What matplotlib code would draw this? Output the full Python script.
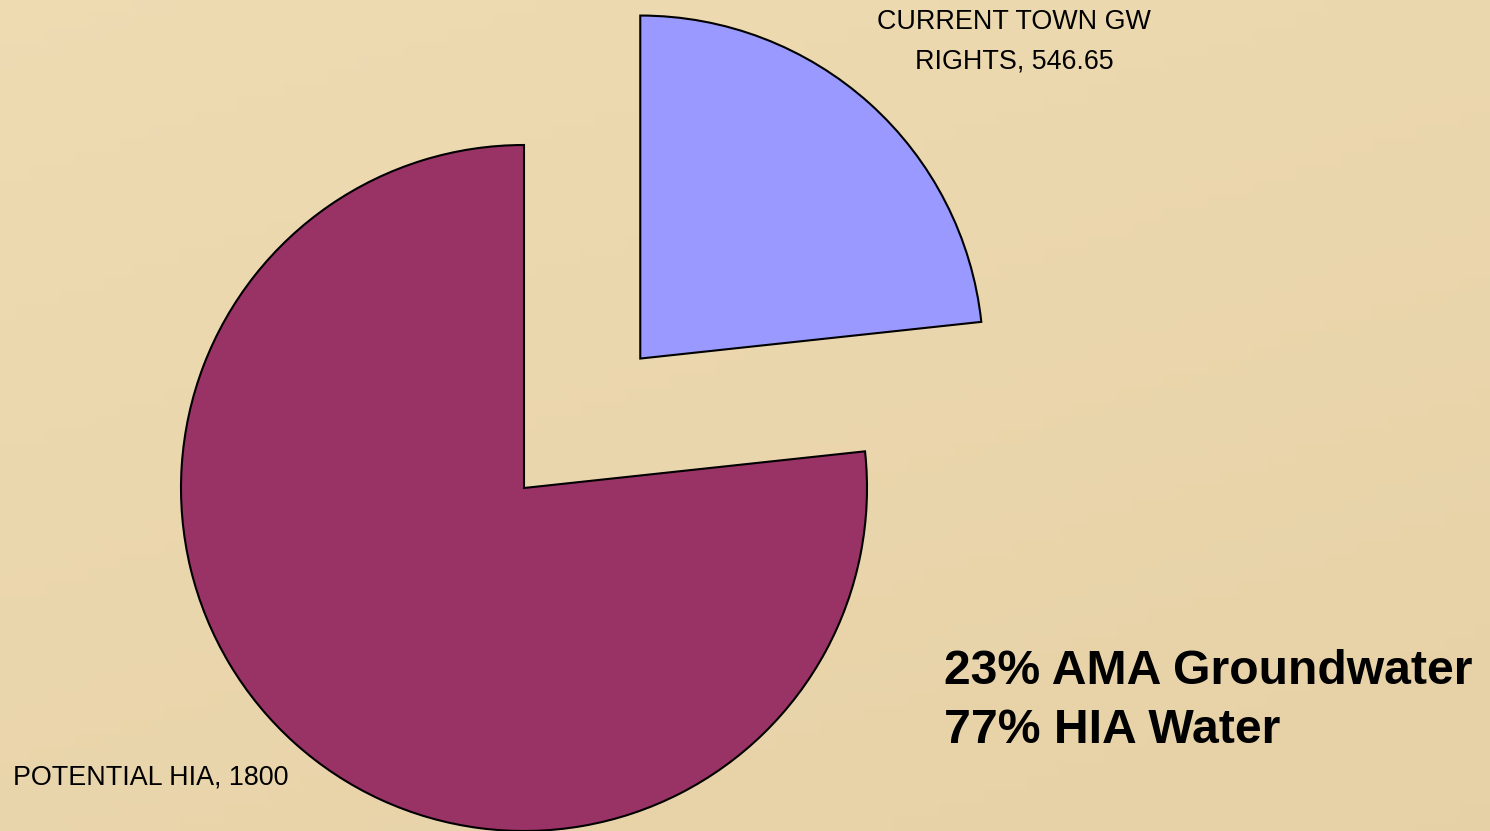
import matplotlib.pyplot as plt
import numpy as np

# data
labels = ["CURRENT TOWN GW\nRIGHTS, 546.65", "POTENTIAL HIA, 1800"]
values = [546.65, 1800]
colors = ["#9999FF", "#993366"]
summary = "23% AMA Groundwater\n77% HIA Water"

plt.rcParams['font.family'] = ['Liberation Sans', 'DejaVu Sans']

W, H = 1490, 831
fig = plt.figure(figsize=(W / 100, H / 100), dpi=100)
ax = fig.add_axes([0, 0, 1, 1])

# parchment-like background, soft gradient
yy, xx = np.mgrid[0:1:60j, 0:1:100j]
shade = 0.5 * yy + 0.3 * xx
c_top = np.array([0.935, 0.860, 0.700])
c_bot = np.array([0.898, 0.812, 0.645])
bg = c_top[None, None, :] * (1 - shade[..., None]) + c_bot[None, None, :] * shade[..., None]
ax.imshow(bg, extent=[0, W, 0, H], aspect='auto', zorder=0)

# pie in pixel units: radius 343, centre at (524, 343)
wedges, _ = ax.pie(values, colors=colors, startangle=90, counterclock=False,
                   radius=343, center=(524, 343), explode=[174, 0],
                   wedgeprops=dict(edgecolor='black', linewidth=1.5),
                   frame=True)
for w in wedges:
    w.set_zorder(2)
ax.set_xlim(0, W)
ax.set_ylim(0, H)
ax.set_aspect('equal')
ax.axis('off')

ax.text(1014, H - 42, labels[0], ha='center', va='center', fontsize=19.4,
        linespacing=1.66, zorder=3)
ax.text(13, H - 778, labels[1], ha='left', va='center', fontsize=19.4,
        zorder=3)
ax.text(944, H - 701, summary, ha='left', va='center', fontsize=34.7,
        fontweight='bold', linespacing=1.38, zorder=3)

fig.savefig("out.png", dpi=100)
